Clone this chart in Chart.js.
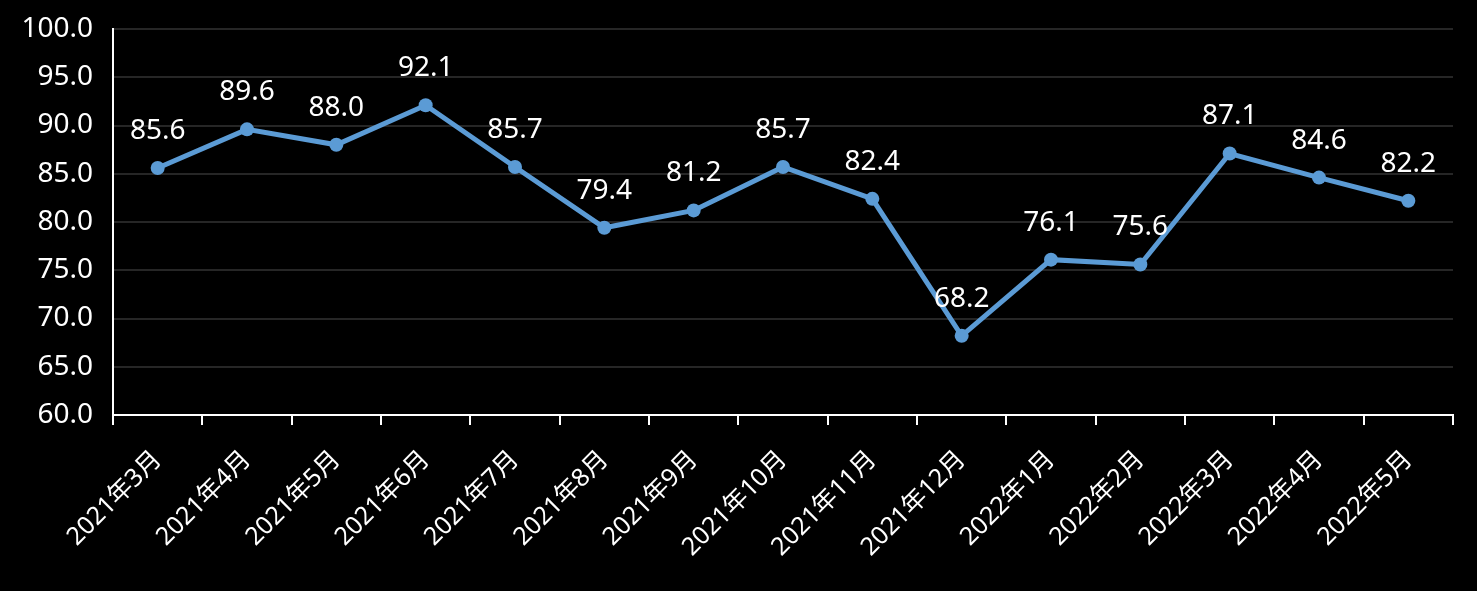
<!DOCTYPE html>
<html>
<head>
<meta charset="utf-8">
<script src="https://cdn.jsdelivr.net/npm/chart.js@4"></script>
<style>
html,body{margin:0;padding:0;background:#000;}
#wrap{width:1477px;height:591px;position:relative;}
</style>
</head>
<body>
<div id="wrap"><canvas id="c" width="1477" height="591"></canvas></div>
<script>
const categories = ["2021年3月","2021年4月","2021年5月","2021年6月","2021年7月","2021年8月","2021年9月","2021年10月","2021年11月","2021年12月","2022年1月","2022年2月","2022年3月","2022年4月","2022年5月"];
const values = [85.6, 89.6, 88.0, 92.1, 85.7, 79.4, 81.2, 85.7, 82.4, 68.2, 76.1, 75.6, 87.1, 84.6, 82.2];
const yMin = 60, yMax = 100, yStep = 5;

const FONT = "'Noto Sans', 'Noto Sans CJK SC', sans-serif";

const dataLabels = {
  id: 'dataLabels',
  afterDatasetsDraw(chart) {
    const ctx = chart.ctx;
    const meta = chart.getDatasetMeta(0);
    ctx.save();
    ctx.fillStyle = '#ffffff';
    ctx.font = "28px " + FONT;
    ctx.textAlign = 'center';
    ctx.textBaseline = 'middle';
    meta.data.forEach((pt, i) => {
      ctx.fillText(values[i].toFixed(1), pt.x, pt.y - 37);
    });
    ctx.restore();
  }
};

new Chart(document.getElementById('c'), {
  type: 'line',
  data: {
    labels: categories,
    datasets: [{
      data: values,
      borderColor: '#5B9BD5',
      backgroundColor: '#5B9BD5',
      borderWidth: 5,
      pointRadius: 7,
      pointBorderWidth: 0,
      pointBackgroundColor: '#5B9BD5',
      tension: 0
    }]
  },
  options: {
    responsive: false,
    animation: false,
    devicePixelRatio: 1,
    layout: { padding: { top: 29, right: 24, left: 0, bottom: 0 } },
    plugins: { legend: { display: false }, tooltip: { enabled: false } },
    scales: {
      x: {
        offset: true,
        grid: { offset: true, drawOnChartArea: false, color: '#ffffff', tickLength: 10, lineWidth: 2 },
        border: { color: '#ffffff', width: 2 },
        ticks: { color: '#ffffff', font: { size: 25, family: FONT }, minRotation: 45, maxRotation: 45, autoSkip: false, padding: 20 },
        afterFit(scale) { scale.height = 176; scale.paddingLeft = 0; scale.paddingRight = 0; }
      },
      y: {
        min: yMin, max: yMax,
        grid: { color: '#262626', lineWidth: 2, drawTicks: false },
        border: { color: '#ffffff', width: 2 },
        ticks: { stepSize: yStep, color: '#ffffff', font: { size: 28, family: FONT }, padding: 20, callback: v => Number(v).toFixed(1) },
        afterFit(scale) { scale.width = 113; scale.paddingTop = 0; scale.paddingBottom = 0; }
      }
    }
  },
  plugins: [dataLabels]
});
</script>
</body>
</html>
